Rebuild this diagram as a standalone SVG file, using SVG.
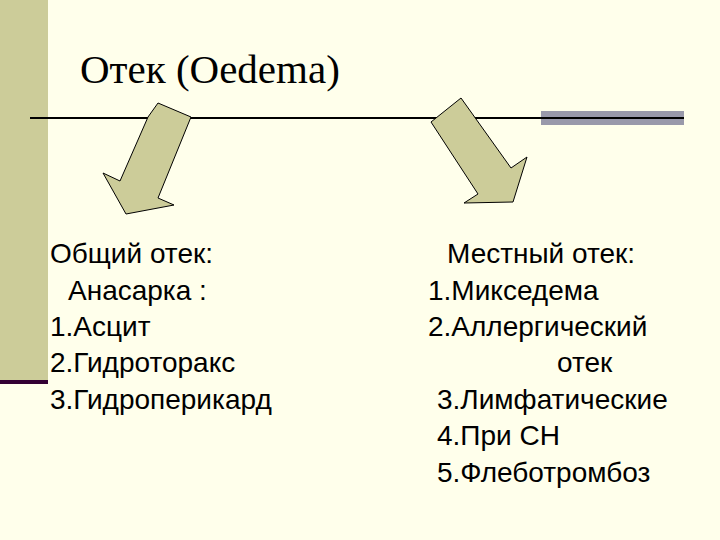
<svg xmlns="http://www.w3.org/2000/svg" width="720" height="540" viewBox="0 0 720 540">
<style>
.t{font-family:"Liberation Sans",Arial,sans-serif;font-size:28px;fill:#000}
.a{fill:#CCCC99;stroke:#000;stroke-width:1}
</style>
<rect width="720" height="540" fill="#FFFFEB"/>
<rect x="0" y="0" width="48" height="380" fill="#CCCC99"/>
<rect x="0" y="380" width="48" height="4" fill="#330033"/>
<text x="80" y="83" font-family="'Liberation Serif',serif" font-size="41">Отек (Oedema)</text>
<g id="connectors">
<line x1="30" y1="118" x2="684" y2="118" stroke="#000" stroke-width="2"/>
<rect x="541" y="111" width="143" height="14" fill="#9999AA"/>
<line x1="541" y1="118" x2="684" y2="118" stroke="#000" stroke-width="2"/>
<polygon class="a" points="158,103 191,117 158,198 174,205 126,214 103,173 120,181 148,117"/>
<polygon class="a" points="461,98 511,168 527,157 513,202 464,203 478,194 431,122"/>
</g>
<g id="left">
<text class="t" x="50" y="263">Общий отек:</text>
<text class="t" x="68" y="300">Анасарка :</text>
<text class="t" x="50" y="336">1.Асцит</text>
<text class="t" x="50" y="372">2.Гидроторакс</text>
<text class="t" x="50" y="409">3.Гидроперикард</text>
</g>
<g id="right">
<text class="t" x="447" y="263">Местный отек:</text>
<text class="t" x="428" y="300">1.Микседема</text>
<text class="t" x="428" y="336">2.Аллергический</text>
<text class="t" x="557" y="372">отек</text>
<text class="t" x="437" y="409">3.Лимфатические</text>
<text class="t" x="437" y="445">4.При СН</text>
<text class="t" x="437" y="482">5.Флеботромбоз</text>
</g>
</svg>
